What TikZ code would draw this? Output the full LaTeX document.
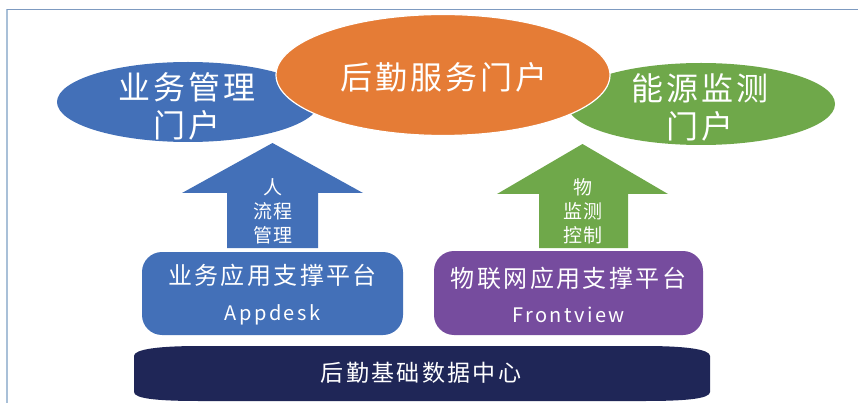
\documentclass[tikz,border=0pt]{standalone}
\usepackage{fontspec}
\setmainfont{Noto Sans CJK SC}
\newfontfamily\cjkA[LetterSpace=10]{Noto Sans CJK SC}
\newfontfamily\latA[LetterSpace=12]{Noto Sans CJK SC}
\usetikzlibrary{shapes.geometric}
\definecolor{cblue}{HTML}{4370B8}
\definecolor{corange}{HTML}{E57C36}
\definecolor{cgreen}{HTML}{6FA84A}
\definecolor{cpurple}{HTML}{764C9E}
\definecolor{cnavy}{HTML}{1F2657}
\definecolor{cframe}{HTML}{7D9AC0}
\definecolor{cframeL}{HTML}{A9C0D8}
\tikzset{
  portal/.style={ellipse, inner sep=0pt},
  portaltext/.style={text=white, align=center, inner sep=0pt, font=\cjkA\fontsize{32}{38}\selectfont},
  platform/.style={rectangle, rounded corners=20pt, inner sep=0pt},
  platformtext/.style={text=white, align=center, inner sep=0pt},
  arrowtext/.style={text=white, align=center, inner sep=0pt, font=\cjkA\fontsize{19}{24}\selectfont}
}
\begin{document}
\begin{tikzpicture}[x=1pt,y=-1pt]
\useasboundingbox (0,0) rectangle (858,403);
% frame
\coordinate (fTL) at (6.5,9.5);
\coordinate (fTR) at (858,9.5);
\coordinate (fBL) at (6.5,403);
\draw[cframeL, line width=2pt] (fTL) -- (fBL);
\draw[cframe, line width=1pt] (fTL) -- (fTR);
% portals
\node[portal, fill=cblue, minimum width=262pt, minimum height=80pt] (biz) at (188,102) {};
\node[portal, fill=cgreen, minimum width=268pt, minimum height=82pt] (energy) at (701,104) {};
\node[portal, fill=corange, draw=white, line width=1.2pt, minimum width=334pt, minimum height=121pt] (logi) at (443,75) {};
\node[portaltext] (bizT) at (187,106) {业务管理\\门户};
\node[portaltext] (energyT) at (700,107) {能源监测\\门户};
\node[portaltext] (logiT) at (444,77) {后勤服务门户};
% arrows
\fill[cblue] (272.5,143) -- (363,193) -- (318,193) -- (318,248) -- (227,248) -- (227,193) -- (182,193) -- cycle;
\fill[cgreen] (582.5,144) -- (668,194) -- (628,194) -- (628,248) -- (539,248) -- (539,194) -- (497,194) -- cycle;
\node[arrowtext] (t1) at (273,211) {人\\流程\\管理};
\node[arrowtext] (t2) at (583,211) {物\\监测\\控制};
% platforms
\node[platform, fill=cblue, minimum width=261pt, minimum height=83pt] (app) at (272.5,293.5) {};
\node[platform, fill=cpurple, minimum width=269pt, minimum height=84pt] (front) at (568.5,293) {};
\node[platformtext] (appT) at (272.5,295)
  {{\cjkA\fontsize{24}{26}\selectfont 业务应用支撑平台}\\[17pt]{\latA\fontsize{20}{22}\selectfont Appdesk}};
\node[platformtext] (frontT) at (568.5,295)
  {{\cjkA\fontsize{24}{26}\selectfont 物联网应用支撑平台}\\[17pt]{\latA\fontsize{20}{22}\selectfont Frontview}};
% base
\fill[cnavy] (134,356) -- (134,392) .. controls (134,399) and (160,401) .. (200,401) -- (644,401)
  .. controls (684,401) and (710,399) .. (710,392) -- (710,356)
  .. controls (710,349) and (684,346) .. (644,346) -- (200,346)
  .. controls (160,346) and (134,349) .. (134,356) -- cycle;
\node[text=white, inner sep=0pt, font=\cjkA\fontsize{23}{25}\selectfont] (base) at (421,373) {后勤基础数据中心};
\end{tikzpicture}
\end{document}
